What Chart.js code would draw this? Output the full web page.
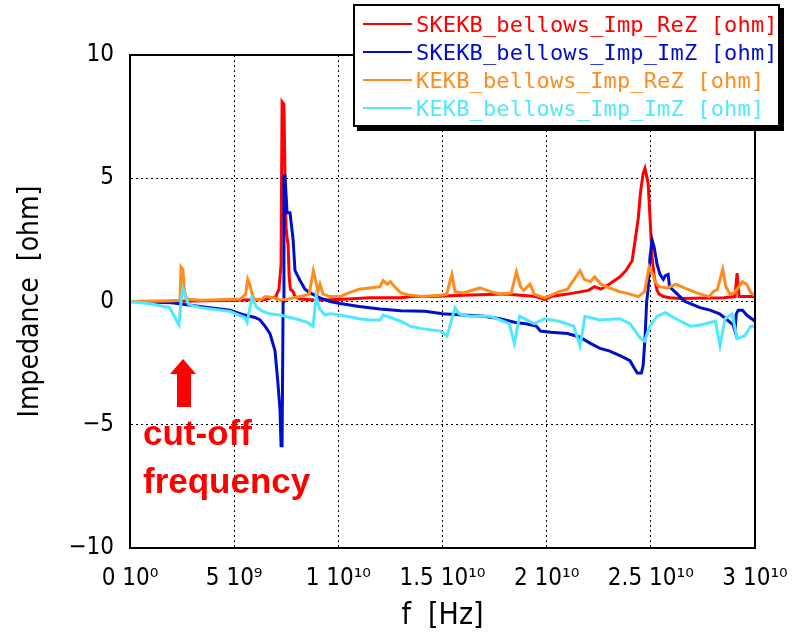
<!DOCTYPE html>
<html>
<head>
<meta charset="utf-8">
<script src="https://cdn.jsdelivr.net/npm/chart.js@4.4.0/dist/chart.umd.min.js"></script>
<style>
body{margin:0;background:#fff;}
#wrap{position:relative;width:804px;height:638px;}
#legend{
  position:absolute;left:353px;top:4px;width:423px;height:115px;
  background:#fff;border:2px solid #000;box-shadow:4px 4px 0 #000;
  padding-top:4px;box-sizing:content-box;
}
#legend .row{height:28px;display:flex;align-items:center;}
#legend .sw{width:49px;height:2px;margin-left:8px;margin-right:4px;}
#legend .tx{font:22px "DejaVu Sans Mono",monospace;letter-spacing:0.15px;white-space:pre;}
.note{position:absolute;left:143px;color:#f00;font:bold 35px "Liberation Sans",Arial,sans-serif;line-height:48px;white-space:pre;}
#arrowHead{position:absolute;left:170px;top:359px;width:0;height:0;
  border-left:13px solid transparent;border-right:13px solid transparent;border-bottom:15px solid #f00;}
#arrowShaft{position:absolute;left:177px;top:373px;width:14px;height:34px;background:#f00;}
</style>
</head>
<body>
<div id="wrap">
<canvas id="impChart" width="804" height="638"></canvas>
<div id="legend"></div>
<div id="arrowHead"></div>
<div id="arrowShaft"></div>
<div class="note" style="top:409px">cut-off</div>
<div class="note" style="top:457px">frequency</div>
</div>
<script>
// ===========================
// DATA (f in GHz, Z in ohm)
// ===========================

const seriesNames = [
  "SKEKB_bellows_Imp_ReZ [ohm]",
  "SKEKB_bellows_Imp_ImZ [ohm]",
  "KEKB_bellows_Imp_ReZ [ohm]",
  "KEKB_bellows_Imp_ImZ [ohm]"
];
const seriesColors = ["#ff0000", "#0010c8", "#ff8c1e", "#50e8ff"];

const skekbReF = [0,3,5,6.5,7.0,7.15,7.25,7.3,7.39,7.44,7.49,7.54,7.59,7.64,7.7,7.83,7.92,8.16,9.0,10.5,11.5,13.0,13.5,14.5,16,18,19.5,19.9,20.2,21,22,22.3,22.6,23,23.52,23.8,24.1,24.25,24.4,24.5,24.63,24.72,24.87,24.96,25.06,25.16,25.3,25.4,25.6,25.92,26.4,28.5,29.04,29.14,29.24,30];
const skekbReZ = [0,0.02,0.05,0.08,0.2,0.5,1.5,8.1,8.0,5.0,3.0,2.6,2.3,1.0,0.5,0.4,0.2,0.1,0.05,0.1,0.15,0.15,0.2,0.2,0.25,0.3,0.2,0.08,0.2,0.3,0.45,0.6,0.5,0.7,1.0,1.25,1.65,2.5,3.4,4.4,5.2,5.4,4.8,3.4,1.8,1.0,0.45,0.3,0.2,0.15,0.12,0.15,0.2,1.15,0.2,0.2];

const skekbImF = [0,2.0,3.36,4.8,5.5,6.0,6.24,6.48,6.72,6.96,7.1,7.2,7.25,7.3,7.35,7.39,7.44,7.54,7.68,7.83,7.92,8.16,8.4,8.64,9.12,9.6,10.08,11,12,13,14.16,15,16,17,17.76,18.5,19,19.5,19.7,20.2,21.0,21.6,22.1,22.56,23.0,23.52,24.0,24.2,24.35,24.55,24.63,24.72,24.8,24.87,24.96,25.06,25.16,25.3,25.44,25.6,25.7,25.83,25.9,26.02,26.4,26.64,27.36,27.84,28.3,28.6,28.95,29.04,29.1,29.2,29.4,29.6,30];
const skekbImZ = [0,-0.05,-0.2,-0.35,-0.55,-0.65,-0.75,-1.0,-1.3,-2.0,-3.3,-4.4,-5.85,-5.85,0,5.1,5.1,3.6,3.6,2.5,1.25,0.85,0.5,0.35,0.15,0.0,-0.08,-0.2,-0.3,-0.38,-0.4,-0.5,-0.55,-0.6,-0.7,-0.85,-0.9,-1.0,-1.2,-1.25,-1.3,-1.45,-1.7,-1.9,-2.0,-2.2,-2.4,-2.7,-2.9,-2.9,-2.6,-1.5,0,0.5,1.8,2.5,2.2,1.5,1.1,0.9,1.05,1.1,0.6,0.5,0.2,0.0,-0.25,-0.35,-0.5,-0.7,-0.95,-1.2,-0.5,-0.35,-0.35,-0.55,-0.8];

const kekbReF = [0,1.9,2.4,2.45,2.54,2.6,2.7,3.4,5.3,5.55,5.65,5.75,5.86,5.95,6.24,6.5,6.9,7.2,7.6,8.16,8.6,8.8,8.9,9.02,9.12,9.27,9.6,10.08,10.5,11.0,11.5,12.0,12.15,12.35,12.5,12.7,13.0,13.5,14.0,14.9,15.2,15.45,15.6,16.0,16.8,17.3,17.8,18.3,18.55,18.75,18.9,19.2,19.4,19.9,20.6,21.0,21.6,21.8,22.1,22.3,22.6,23.0,23.5,24.0,24.4,24.7,24.92,25.1,25.2,25.4,25.8,26.2,26.6,27.2,27.8,28.0,28.2,28.45,28.6,28.8,29.0,29.4,29.6,29.8,30];
const kekbReZ = [0,0.02,0.05,1.4,1.3,0.5,0.1,0.05,0.1,0.3,0.9,0.7,0.3,0.1,0.05,0.2,0.15,0.05,0.1,0.2,0.3,1.25,0.9,0.4,0.7,0.3,0.2,0.2,0.35,0.5,0.55,0.6,0.85,0.7,0.8,0.6,0.35,0.25,0.2,0.25,0.3,1.1,0.4,0.35,0.55,0.4,0.3,0.35,1.2,0.6,0.45,0.7,0.3,0.15,0.4,0.5,1.25,0.9,0.8,1.0,0.7,0.55,0.4,0.3,0.2,0.4,1.4,1.1,0.8,0.6,0.55,0.7,0.55,0.35,0.2,0.4,0.5,1.3,0.6,0.3,0.35,0.8,0.7,0.35,0.25];

const kekbImF = [0,1.0,1.9,2.35,2.45,2.54,2.64,2.8,2.9,3.4,4.8,5.5,5.62,5.85,6.05,6.3,6.7,7.2,8.16,8.5,8.79,8.93,9.0,9.1,9.36,9.6,10.08,11.0,11.5,12.0,12.15,12.5,13.0,13.44,14.0,14.9,15.22,15.6,15.8,16.3,17.3,18.2,18.45,18.7,19.4,19.9,20.6,21.3,21.6,21.84,22.56,23.5,24.0,24.5,24.7,24.96,25.3,25.7,26.2,26.9,27.4,28.1,28.32,28.56,28.9,29.14,29.5,29.8,30];
const kekbImZ = [0,-0.1,-0.25,-0.95,0.0,0.5,0.3,-0.1,-0.15,-0.25,-0.4,-0.65,-0.85,0.15,-0.2,-0.37,-0.5,-0.55,-0.75,-0.85,-1.0,0.2,0.0,-0.3,-0.55,-0.5,-0.55,-0.7,-0.75,-0.75,-0.55,-0.65,-0.8,-1.0,-1.1,-1.2,-1.4,-0.25,-0.5,-0.6,-0.6,-0.9,-1.7,-0.6,-0.9,-0.7,-0.8,-1.0,-1.8,-0.6,-0.75,-0.7,-0.9,-1.5,-1.6,-1.0,-0.6,-0.45,-0.7,-1.0,-0.95,-0.8,-1.8,-0.7,-0.5,-1.5,-1.4,-1.0,-1.0];

const xTickValues = [0,5,10,15,20,25,30];
const xTickLabels = ["0 10\u2070","5 10\u2079","1 10\u00b9\u2070","1.5 10\u00b9\u2070","2 10\u00b9\u2070","2.5 10\u00b9\u2070","3 10\u00b9\u2070"];
const yTickValues = [-10,-5,0,5,10];
const yTickLabels = ["\u221210","\u22125","0","5","10"];

// ===========================
// HELPERS
// ===========================

function toPoints(fs, zs){
  return fs.map((f,i)=>({x:f, y:zs[i]}));
}

const allSeries = [
  toPoints(skekbReF, skekbReZ),
  toPoints(skekbImF, skekbImZ),
  toPoints(kekbReF, kekbReZ),
  toPoints(kekbImF, kekbImZ)
];

const tickFont = {family:'"Liberation Sans Narrow","DejaVu Sans Condensed",sans-serif', size:24};

// frame around plot area
const framePlugin = {
  id:'frame',
  afterDraw(chart){
    const a = chart.chartArea;
    const c = chart.ctx;
    c.save();
    c.strokeStyle = '#000';
    c.lineWidth = 2;
    c.strokeRect(a.left, a.top, a.right - a.left, a.bottom - a.top);
    c.restore();
  }
};

// ===========================
// CHART
// ===========================

const ctx = document.getElementById("impChart").getContext("2d");

const impChart = new Chart(ctx,{
  type:'line',
  data:{
    datasets: allSeries.map((pts,i)=>({
      label: seriesNames[i],
      data: pts,
      borderColor: seriesColors[i],
      backgroundColor: seriesColors[i],
      borderWidth: 3,
      pointRadius: 0,
      tension: 0,
      fill: false,
      order: 4 - i
    }))
  },
  options:{
    responsive:false,
    animation:false,
    layout:{padding:{top:55, right:49, left:0, bottom:0}},
    plugins:{legend:{display:false}, tooltip:{enabled:false}},
    scales:{
      x:{
        type:'linear', min:0, max:30,
        afterFit(s){ s.height = 90; },
        afterBuildTicks(s){ s.ticks = xTickValues.map(v=>({value:v})); },
        ticks:{
          padding:16, color:'#000', font:tickFont, maxRotation:0,
          callback:(v)=>xTickLabels[xTickValues.indexOf(v)]
        },
        grid:{color:'#000', lineWidth:1, drawTicks:false},
        border:{color:'#000', width:2, dash:[2,3]},
        title:{display:true, text:'f  [Hz]', color:'#000',
          font:{family:tickFont.family, size:30}, padding:{top:0,bottom:4}}
      },
      y:{
        min:-10, max:10,
        afterFit(s){ s.width = 130; },
        afterBuildTicks(s){ s.ticks = yTickValues.map(v=>({value:v})); },
        ticks:{
          padding:16, color:'#000', font:tickFont,
          callback:(v)=>yTickLabels[yTickValues.indexOf(v)]
        },
        grid:{color:'#000', lineWidth:1, drawTicks:false},
        border:{color:'#000', width:2, dash:[2,3]},
        title:{display:true, text:'Impedance  [ohm]', color:'#000',
          font:{family:tickFont.family, size:28}, padding:{top:14,bottom:0}}
      }
    }
  },
  plugins:[framePlugin]
});

// ===========================
// LEGEND (html)
// ===========================

const legendBox = document.getElementById("legend");
seriesNames.forEach((name,i)=>{
  const row = document.createElement("div");
  row.className = "row";
  const sw = document.createElement("span");
  sw.className = "sw";
  sw.style.background = seriesColors[i];
  const tx = document.createElement("span");
  tx.className = "tx";
  tx.style.color = seriesColors[i];
  tx.textContent = name;
  row.appendChild(sw);
  row.appendChild(tx);
  legendBox.appendChild(row);
});
</script>
</body>
</html>
